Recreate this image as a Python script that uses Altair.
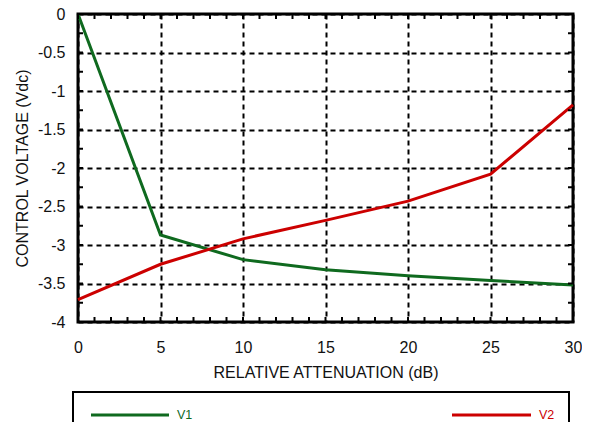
import altair as alt
import pandas as pd

# ---- data ----
atten_db = [0, 5, 10, 15, 20, 25, 30]
v1 = [0.0, -2.87, -3.19, -3.32, -3.40, -3.46, -3.52]
v2 = [-3.71, -3.25, -2.92, -2.68, -2.43, -2.08, -1.18]
series_names = ["V1", "V2"]
series_colors = ["#0f6a1f", "#cc0000"]
x_ticks = [0, 5, 10, 15, 20, 25, 30]
y_ticks = [-4, -3.5, -3, -2.5, -2, -1.5, -1, -0.5, 0]
x_minor = list(range(0, 31))
y_minor = [i * 0.25 - 4 for i in range(17)]

W, H = 495, 308
FONT = "Liberation Sans"

rows = []
for x, a, b in zip(atten_db, v1, v2):
    rows.append({"x": x, "y": a, "series": "V1"})
    rows.append({"x": x, "y": b, "series": "V2"})
df = pd.DataFrame(rows)

xaxis = alt.Axis(values=x_ticks, title="RELATIVE ATTENUATION (dB)", grid=True,
                 gridColor="black", gridDash=[5, 4], gridWidth=2, ticks=False,
                 domain=False, labelPadding=17, labelFontSize=16, titleFontSize=16,
                 titlePadding=9, labelFont=FONT, titleFont=FONT, labelColor="#111",
                 titleColor="#111", titleFontWeight="normal", labelFlush=False,
                 labelOverlap=False)
yaxis = alt.Axis(values=y_ticks, title="CONTROL VOLTAGE (Vdc)", grid=True,
                 gridColor="black", gridDash=[5, 4], gridWidth=2, ticks=False,
                 domain=False, labelPadding=13, labelFontSize=16, titleFontSize=16,
                 titlePadding=7, labelFont=FONT, titleFont=FONT, labelColor="#111",
                 titleColor="#111", titleFontWeight="normal", labelFlush=False,
                 labelOverlap=False, labelExpr="'' + datum.value")
xs = alt.Scale(domain=[0, 30], nice=False, zero=False)
ys = alt.Scale(domain=[-4, 0], nice=False, zero=False)

lines = alt.Chart(df).mark_line(strokeWidth=3).encode(
    x=alt.X("x:Q", scale=xs, axis=xaxis),
    y=alt.Y("y:Q", scale=ys, axis=yaxis),
    color=alt.Color("series:N", scale=alt.Scale(domain=series_names, range=series_colors), legend=None),
)

xm = pd.DataFrame({"x": x_minor})
ym = pd.DataFrame({"y": y_minor})
tick_style = dict(color="black", strokeWidth=2)
bottom_ticks = alt.Chart(xm).mark_rule(**tick_style).encode(
    x=alt.X("x:Q", scale=xs, axis=xaxis), y=alt.value(H), y2=alt.value(H - 5))
top_ticks = alt.Chart(xm).mark_rule(**tick_style).encode(
    x=alt.X("x:Q", scale=xs, axis=xaxis), y=alt.value(0), y2=alt.value(5))
left_ticks = alt.Chart(ym).mark_rule(**tick_style).encode(
    y=alt.Y("y:Q", scale=ys, axis=yaxis), x=alt.value(0), x2=alt.value(5))
right_ticks = alt.Chart(ym).mark_rule(**tick_style).encode(
    y=alt.Y("y:Q", scale=ys, axis=yaxis), x=alt.value(W - 5), x2=alt.value(W))

one = pd.DataFrame({"k": [0]})
legend_box = alt.Chart(one).mark_rect(fill="white", stroke="black", strokeWidth=2).encode(
    x=alt.value(-5), x2=alt.value(491), y=alt.value(378), y2=alt.value(460))
leg_v1_line = alt.Chart(one).mark_rule(color=series_colors[0], strokeWidth=3).encode(
    x=alt.value(13), x2=alt.value(91), y=alt.value(401))
leg_v2_line = alt.Chart(one).mark_rule(color=series_colors[1], strokeWidth=3).encode(
    x=alt.value(374), x2=alt.value(453), y=alt.value(401))
leg_v1_text = alt.Chart(one).mark_text(align="left", baseline="middle", font=FONT,
                                       fontSize=12.5, color=series_colors[0]).encode(
    x=alt.value(99), y=alt.value(401), text=alt.value(series_names[0]))
leg_v2_text = alt.Chart(one).mark_text(align="left", baseline="middle", font=FONT,
                                       fontSize=12.5, color=series_colors[1]).encode(
    x=alt.value(461), y=alt.value(401), text=alt.value(series_names[1]))

chart = alt.layer(
    lines, bottom_ticks, top_ticks, left_ticks, right_ticks,
    legend_box, leg_v1_line, leg_v2_line, leg_v1_text, leg_v2_text,
).properties(
    width=W, height=H,
    autosize=alt.AutoSizeParams(type="none"),
    padding={"left": 70, "top": 6, "right": 9, "bottom": 100},
).configure_view(stroke="black", strokeWidth=3)

chart.save("out.html", embed_options={"renderer": "svg", "actions": False})
